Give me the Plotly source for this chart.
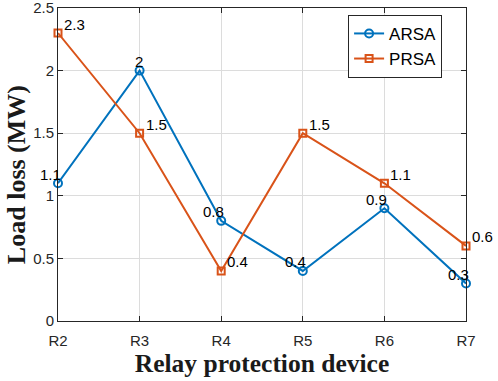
import plotly.graph_objects as go

devices = ["R2", "R3", "R4", "R5", "R6", "R7"]
arsa = [1.1, 2.0, 0.8, 0.4, 0.9, 0.3]
prsa = [2.3, 1.5, 0.4, 1.5, 1.1, 0.6]
arsa_labels = ["1.1", "2", "0.8", "0.4", "0.9", "0.3"]
prsa_labels = ["2.3", "1.5", "0.4", "1.5", "1.1", "0.6"]
y_ticks = [0, 0.5, 1, 1.5, 2, 2.5]

blue = "#0072BD"
orange = "#D95319"

fig = go.Figure()
fig.add_trace(go.Scatter(x=devices, y=arsa, name="ARSA", mode="lines+markers",
                         line=dict(color=blue, width=2), cliponaxis=False,
                         marker=dict(symbol="circle-open", size=8, color=blue, line=dict(width=2))))
fig.add_trace(go.Scatter(x=devices, y=prsa, name="PRSA", mode="lines+markers",
                         line=dict(color=orange, width=2), cliponaxis=False,
                         marker=dict(symbol="square-open", size=7, color=orange, line=dict(width=2))))

for d, v, t in zip(devices, arsa, arsa_labels):
    fig.add_annotation(x=d, y=v, text=t, showarrow=False, xanchor="right", yanchor="middle",
                       xshift=5, yshift=9, font=dict(family="Arial, Liberation Sans", size=15, color="black"))
for d, v, t in zip(devices, prsa, prsa_labels):
    fig.add_annotation(x=d, y=v, text=t, showarrow=False, xanchor="left", yanchor="middle",
                       xshift=4, yshift=9, font=dict(family="Arial, Liberation Sans", size=15, color="black"))

# y-axis title as a rotated annotation (placed like the reference)
fig.add_annotation(xref="paper", yref="paper", x=0, y=0.466, xshift=-42,
                   text="<b>Load loss (MW)</b>", textangle=-90, showarrow=False,
                   xanchor="center", yanchor="middle",
                   font=dict(family="Liberation Serif, Times New Roman", size=26, color="#1a1a1a"))

axis_common = dict(showline=True, linecolor="#262626", linewidth=1, mirror="ticks",
                   ticks="inside", ticklen=5, tickcolor="#262626", automargin=False,
                   showgrid=True, gridcolor="#dcdcdc", gridwidth=1, zeroline=False,
                   ticklabeloverflow="allow",
                   tickfont=dict(family="Arial, Liberation Sans", size=15, color="#262626"))

fig.update_xaxes(**axis_common, range=[0, 5], type="category", ticklabelstandoff=6,
                 title=dict(text="<b>Relay protection device</b>", standoff=3,
                            font=dict(family="Liberation Serif, Times New Roman", size=25.5, color="#1a1a1a")))
fig.update_yaxes(**axis_common, range=[0, 2.5], tickvals=y_ticks,
                 ticktext=["0", "0.5", "1", "1.5", "2", "2.5"])

fig.update_layout(
    width=498, height=381,
    margin=dict(l=58, r=32, t=8, b=60),
    plot_bgcolor="white", paper_bgcolor="white",
    showlegend=True,
    legend=dict(x=0.711, y=0.978, xanchor="left", yanchor="top",
                bordercolor="#262626", borderwidth=1, bgcolor="white",
                font=dict(family="Arial, Liberation Sans", size=17, color="black"),
                itemwidth=30, tracegroupgap=0),
)

fig.write_html("out.html", config={"displayModeBar": False},
               post_script="document.body.style.margin='0';document.body.style.overflow='hidden';")
